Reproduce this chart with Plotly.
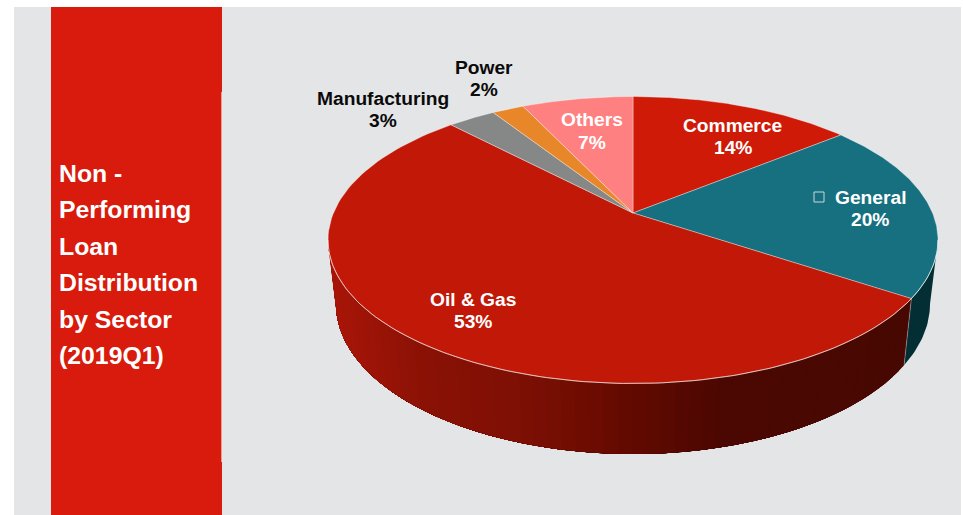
import numpy as np
import plotly.graph_objects as go

# Sector shares of non-performing loans, clockwise from twelve o'clock
sectors = ["Commerce", "General", "Oil & Gas", "Manufacturing", "Power", "Others"]
shares = [14, 20, 53, 3, 2, 7]
title_lines = ["Non -", "Performing", "Loan", "Distribution", "by Sector", "(2019Q1)"]

# Styling
top_colors = {"Commerce": "#D01A08", "General": "#16707F", "Oil & Gas": "#C11807",
              "Manufacturing": "#868887", "Power": "#E8862A", "Others": "#FF8080"}
wall_colors = {"General": "#032E33"}
label_colors = {"Manufacturing": "#0A0A0A", "Power": "#0A0A0A"}
label_centres = {"Commerce": (733, 125), "General": (870, 197), "Oil & Gas": (473, 299),
                 "Manufacturing": (383, 98), "Power": (484, 67), "Others": (592, 119.5)}
FONT = "Liberation Sans"

# Pie geometry in page pixels: upper and lower rims plus perspective strength
CX, CY, RX, RY = 633, 240, 305, 143.5
CYB, RXB, RYB = 304, 297, 150
PERSPECTIVE = 0.188

# Wall shading, dark towards the right: (x pixel, rgb)
WALL_RAMP = [(330, (170, 22, 8)), (420, (140, 18, 6)), (520, (126, 16, 5)),
             (633, (98, 10, 0)), (720, (76, 8, 2)), (910, (72, 8, 2))]


def project(phi):
    """Clockwise pie angle (radians) to foreshortened unit-circle coordinates."""
    u, v = np.sin(phi), np.cos(phi)
    d = 1 + PERSPECTIVE * v
    return u * np.sqrt(1 - PERSPECTIVE ** 2) / d, (v + PERSPECTIVE) / d


def top_rim(phi):
    u, v = project(phi)
    return CX + RX * u, CY - RY * v


def bottom_rim(phi):
    u, v = project(phi)
    return CX + RXB * u, CYB - RYB * v


def polygon(x, y, fill, line=None, width=0.0):
    return go.Scatter(x=x, y=y, mode="lines", fill="toself", fillcolor=fill,
                      line=dict(color=line or fill, width=width),
                      hoverinfo="skip", showlegend=False)


def wall_polygon(lo, hi, fill):
    phi = np.linspace(lo, hi, max(3, int((hi - lo) * 60)))
    tx, ty = top_rim(phi)
    bx, by = bottom_rim(phi)
    return polygon(np.r_[tx, bx[::-1], tx[0]], np.r_[ty, by[::-1], ty[0]], fill)


def ramp_color(x):
    xs = [p[0] for p in WALL_RAMP]
    rgb = [np.interp(x, xs, [p[1][i] for p in WALL_RAMP]) for i in range(3)]
    return "rgb(%d,%d,%d)" % tuple(rgb)


fracs = np.array(shares, dtype=float) / sum(shares)
edges = np.concatenate([[0.0], np.cumsum(fracs)]) * 2 * np.pi
front_start = np.arccos(-PERSPECTIVE)
front_end = 2 * np.pi - front_start

fig = go.Figure()

# Side wall, only where the rim faces the viewer. Shaded sections are painted
# as nested polygons so neighbouring steps leave no gaps between them.
for name, a0, a1 in zip(sectors, edges[:-1], edges[1:]):
    lo, hi = max(a0, front_start), min(a1, front_end)
    if lo >= hi:
        continue
    if name in wall_colors:
        fig.add_trace(wall_polygon(lo, hi, wall_colors[name]))
    else:
        for s0 in np.linspace(lo, hi, 61)[:-1]:
            next_phi = s0 + (hi - lo) / 120
            tx, _ = top_rim(next_phi)
            bx, _ = bottom_rim(next_phi)
            fig.add_trace(wall_polygon(s0, hi, ramp_color(0.5 * (tx + bx))))

# Top face
for name, a0, a1 in zip(sectors, edges[:-1], edges[1:]):
    phi = np.linspace(a0, a1, 120)
    rx, ry = top_rim(phi)
    ax, ay = CX, CY - RY * PERSPECTIVE
    fig.add_trace(polygon(np.r_[ax, rx, ax], np.r_[ay, ry, ay], top_colors[name],
                          line="rgba(255,255,255,0.45)", width=0.8))

# Pale highlight along the front edge of the top face
phi = np.linspace(front_start, front_end, 160)
hx, hy = top_rim(phi)
fig.add_trace(go.Scatter(x=hx, y=hy, mode="lines",
                         line=dict(color="rgba(255,255,255,0.6)", width=1),
                         hoverinfo="skip", showlegend=False))

# Pale seam where the two wall sections meet
seam = edges[2]
tx, ty = top_rim(seam)
bx, by = bottom_rim(seam)
fig.add_trace(go.Scatter(x=[tx, bx], y=[ty, by], mode="lines",
                         line=dict(color="rgba(255,255,255,0.4)", width=0.8),
                         hoverinfo="skip", showlegend=False))

# Small empty box glyph left of the General label
fig.add_trace(go.Scatter(x=[819], y=[197], mode="markers",
                         marker=dict(symbol="square-open", size=10,
                                     color="#CBD6D9", line=dict(width=1)),
                         hoverinfo="skip", showlegend=False))

annotations = []
for name, share in zip(sectors, shares):
    x, y = label_centres[name]
    color = label_colors.get(name, "#FFFFFF")
    for i, text in enumerate([name, f"{share}%"]):
        annotations.append(dict(x=x, y=y + i * 22.5, text=f"<b>{text}</b>", showarrow=False,
                                xanchor="center", yanchor="middle",
                                font=dict(family=FONT, size=19.2, color=color)))
for i, text in enumerate(title_lines):
    annotations.append(dict(x=56.5, y=173.5 + i * 36.4, text=f"<b>{text}</b>", showarrow=False,
                            xanchor="left", yanchor="middle",
                            font=dict(family=FONT, size=24.8, color="#FFFFFF")))

shapes = [
    dict(type="rect", x0=14, x1=961, y0=7, y1=515, fillcolor="#E4E5E7", line_width=0, layer="below"),
    dict(type="rect", x0=51, x1=222, y0=7, y1=515, fillcolor="#D81B0C", line_width=0, layer="below"),
    dict(type="rect", x0=221, x1=222, y0=92, y1=462, fillcolor="#EE9A92", line_width=0, layer="below"),
]

fig.update_layout(
    width=963, height=515, margin=dict(l=0, r=0, t=0, b=0),
    paper_bgcolor="#FFFFFF", plot_bgcolor="rgba(0,0,0,0)", showlegend=False,
    xaxis=dict(range=[0, 963], visible=False, fixedrange=True),
    yaxis=dict(range=[515, 0], visible=False, fixedrange=True),
    shapes=shapes, annotations=annotations,
)

fig.write_html("out.html", config={"displayModeBar": False})
